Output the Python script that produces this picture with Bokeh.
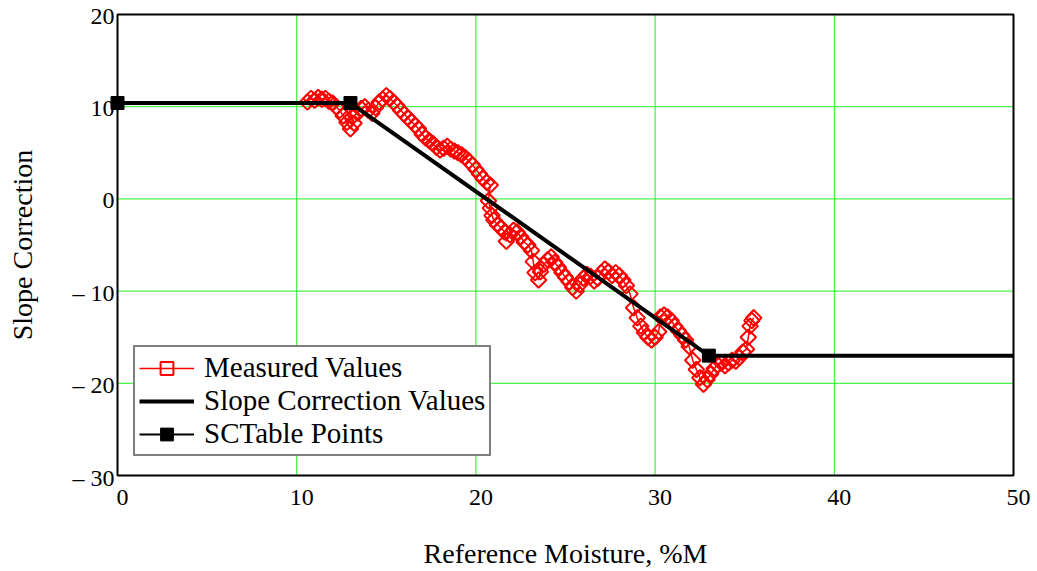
import numpy as np
from bokeh.plotting import figure
from bokeh.models import Range1d, Legend, LegendItem, ColumnDataSource
from bokeh.core.properties import value
from bokeh.embed import file_html
from bokeh.resources import INLINE

meas_x = [10.6, 10.8, 11.0, 11.2, 11.4, 11.6, 11.8, 12.0, 12.2, 12.4, 12.6, 12.8, 13.0, 13.2, 13.1,
          13.4, 13.6, 13.8, 14.0, 14.2, 14.4, 14.6, 14.8, 15.0, 15.2, 15.4, 15.6, 15.8, 16.0, 16.2,
          16.4, 16.6, 16.8, 17.0, 17.2, 17.4, 17.6, 17.8, 18.0, 18.2, 18.4, 18.6, 18.8, 19.0, 19.2,
          19.4, 19.6, 19.8, 20.0, 20.2, 20.4, 20.6, 20.8, 20.7, 20.8, 20.9, 21.0, 21.2, 21.4, 21.6,
          21.7, 21.9, 22.1, 22.3, 22.5, 22.7, 22.9, 23.1, 23.2, 23.3, 23.5, 23.6, 23.8, 24.0, 24.2,
          24.4, 24.6, 24.8, 25.0, 25.2, 25.4, 25.6, 25.8, 26.0, 26.2, 26.4, 26.6, 26.8, 27.0, 27.2,
          27.4, 27.6, 27.8, 28.0, 28.2, 28.4, 28.6, 28.8, 29.0, 29.2, 29.4, 29.6, 29.8, 30.0, 30.2,
          30.3, 30.5, 30.7, 30.9, 31.1, 31.3, 31.5, 31.7, 31.9, 32.1, 32.3, 32.5, 32.7, 32.9, 33.1,
          33.3, 33.5, 33.7, 33.9, 34.1, 34.3, 34.5, 34.7, 34.9, 35.1, 35.2, 35.3, 35.4, 35.5]
meas_y = [10.5, 10.9, 10.7, 11.0, 10.8, 10.9, 10.6, 10.4, 10.0, 9.6, 9.0, 8.3, 7.6, 8.2, 8.9,
          9.3, 9.8, 10.0, 9.6, 9.3, 9.9, 10.5, 10.8, 11.2, 10.9, 10.5, 10.1, 9.6, 9.2, 8.8,
          8.4, 8.0, 7.6, 7.0, 6.6, 6.3, 6.0, 5.6, 5.3, 5.5, 5.7, 5.4, 5.2, 5.0, 4.8,
          4.5, 4.1, 3.7, 3.2, 2.7, 2.2, 1.8, 1.5, -0.2, -1.0, -1.8, -2.3, -2.8, -3.1, -3.6,
          -4.6, -3.9, -3.4, -3.6, -4.1, -4.7, -5.0, -5.6, -6.8, -8.0, -8.8, -7.9, -7.1, -6.6, -6.3,
          -6.9, -7.4, -8.0, -8.5, -9.0, -9.6, -10.0, -9.3, -8.6, -8.2, -8.4, -8.9, -8.6, -8.0, -7.6,
          -7.9, -8.3, -8.0, -8.3, -8.8, -9.4, -10.3, -11.8, -12.9, -13.8, -14.5, -15.0, -15.3, -15.0, -14.4,
          -12.8, -12.6, -12.8, -13.2, -13.8, -14.3, -14.8, -15.3, -16.0, -17.5, -18.5, -19.4, -20.1, -19.6, -19.0,
          -18.4, -18.0, -17.8, -18.1, -17.8, -17.5, -17.6, -17.2, -16.6, -16.3, -15.0, -13.8, -13.2, -12.9]

# Slope correction curve
slope_x = [0, 13, 33, 50]
slope_y = [10.4, 10.4, -17.0, -17.0]

# SCTable points
sct_x = [0, 13, 33]
sct_y = [10.4, 10.4, -17.0]

# Ticks and their labels
x_ticks = [0, 10, 20, 30, 40, 50]
x_tick_labels = ["0", "10", "20", "30", "40", "50"]
y_ticks = [-30, -20, -10, 0, 10, 20]
y_tick_labels = ["\u2013 30", "\u2013 20", "\u2013 10", "0", "10", "20"]

x_title = "Reference Moisture, %M"
y_title = "Slope Correction"

SERIF = "Liberation Serif"
GRID = "#22ee22"

# layout (pixels): the plotting box inside the canvas
W, H = 1036, 571
BOX_L, BOX_R, BOX_T, BOX_B = 117, 1013, 14, 475

x0, x1 = x_ticks[0], x_ticks[-1]
y0, y1 = y_ticks[0], y_ticks[-1]
ppx = (BOX_R - BOX_L) / (x1 - x0)
ppy = (BOX_B - BOX_T) / (y1 - y0)

p = figure(width=W, height=H, output_backend="svg", toolbar_location=None,
           x_axis_location=None, y_axis_location=None, min_border=0,
           x_range=Range1d(x0 - BOX_L / ppx, x1 + (W - BOX_R) / ppx),
           y_range=Range1d(y0 - (H - BOX_B) / ppy, y1 + BOX_T / ppy))
p.background_fill_color = "white"
p.border_fill_color = "white"
p.outline_line_color = None
p.grid.visible = False

# grid lines from the tick lists
gx = x_ticks[1:-1]
gy = y_ticks[1:-1]
p.segment(x0=gx, y0=[y0] * len(gx), x1=gx, y1=[y1] * len(gx), line_color=GRID, line_width=1)
p.segment(x0=[x0] * len(gy), y0=gy, x1=[x1] * len(gy), y1=gy, line_color=GRID, line_width=1)

# plotting box
p.quad(left=[x0], right=[x1], bottom=[y0], top=[y1], fill_alpha=0,
       line_color="black", line_width=2)

# data
meas_src = ColumnDataSource(dict(x=meas_x, y=meas_y))
r_meas_line = p.line("x", "y", source=meas_src, line_color="red", line_width=1.5)
r_meas_pts = p.scatter("x", "y", source=meas_src, marker="square", angle=np.pi / 4,
                       size=11, line_color="red", line_width=2, fill_alpha=0)

r_slope = p.line(slope_x, slope_y, line_color="black", line_width=4)
r_sct_line = p.line(sct_x, sct_y, line_color="black", line_width=2)
r_sct_pts = p.scatter(sct_x, sct_y, marker="square", size=13, fill_color="black",
                      line_color="black")

# tick labels
p.text(x=x_ticks, y=[y0] * len(x_ticks), text=x_tick_labels, x_offset=5, y_offset=22,
       text_align="center", text_baseline="middle", text_font=value(SERIF),
       text_font_size="24px", text_color="black")
p.text(x=[x0] * len(y_ticks), y=y_ticks, text=y_tick_labels, x_offset=-3, y_offset=2,
       text_align="right", text_baseline="middle", text_font=value(SERIF),
       text_font_size="24px", text_color="black")

# axis titles
p.text(x=[(x0 + x1) / 2], y=[y0], text=[x_title], y_offset=78,
       text_align="center", text_baseline="middle", text_font=value(SERIF),
       text_font_size="28px", text_color="black")
p.text(x=[x0], y=[(y0 + y1) / 2], text=[y_title], x_offset=-95, angle=np.pi / 2,
       text_align="center", text_baseline="middle", text_font=value(SERIF),
       text_font_size="28px", text_color="black")

legend = Legend(items=[
    LegendItem(label="Measured Values", renderers=[r_meas_line, r_meas_pts]),
    LegendItem(label="Slope Correction Values", renderers=[r_slope]),
    LegendItem(label="SCTable Points", renderers=[r_sct_line, r_sct_pts]),
], location=(BOX_L + 16, H - BOX_B + 19))
legend.label_text_font = SERIF
legend.label_text_font_size = "29px"
legend.label_text_color = "black"
legend.border_line_color = "black"
legend.border_line_width = 2
legend.background_fill_color = "white"
legend.background_fill_alpha = 1
legend.glyph_width = 55
legend.glyph_height = 32
legend.label_height = 32
legend.spacing = 0
legend.padding = 4
legend.margin = 0
legend.label_standoff = 10
p.add_layout(legend, "center")

open("out.html", "w").write(file_html(p, INLINE))
